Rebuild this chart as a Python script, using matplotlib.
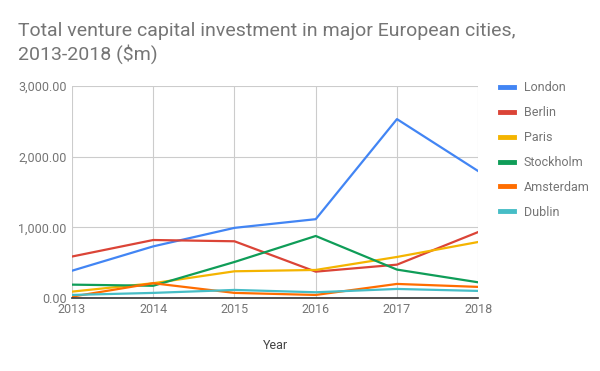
import matplotlib
matplotlib.use("Agg")
import matplotlib.pyplot as plt
from matplotlib.ticker import FuncFormatter

plt.rcParams['font.family'] = ['Roboto', 'DejaVu Sans']

years = [2013, 2014, 2015, 2016, 2017, 2018]
london = [385, 730, 992, 1115, 2532, 1796]
berlin = [586, 820, 802, 372, 471, 933]
paris = [89, 208, 377, 396, 580, 792]
stockholm = [188, 172, 509, 877, 401, 221]
amsterdam = [18, 208, 71, 42, 198, 156]
dublin = [42, 71, 113, 80, 127, 99]

series = [
    ("London", london, "#4285F4"),
    ("Berlin", berlin, "#DB4437"),
    ("Paris", paris, "#F4B400"),
    ("Stockholm", stockholm, "#0F9D58"),
    ("Amsterdam", amsterdam, "#FF6D00"),
    ("Dublin", dublin, "#46BDC6"),
]

fig = plt.figure(figsize=(6, 3.71), dpi=100)
ax = fig.add_axes([0.12, 0.197, 0.677, 0.571])

for name, vals, col in series:
    ax.plot(years, vals, color=col, lw=1.6, label=name, solid_joinstyle='round')

ax.set_xlim(2013, 2018)
ax.set_ylim(0, 3000)
ax.set_xticks(years)
ax.set_yticks([0, 1000, 2000, 3000])
ax.yaxis.set_major_formatter(FuncFormatter(lambda v, p: f"{v:,.2f}"))
ax.grid(True, color="#CCCCCC", lw=0.8)
ax.set_axisbelow(True)
for s in ["top", "right", "left"]:
    ax.spines[s].set_visible(False)
ax.spines["bottom"].set_color("#333333")
ax.spines["bottom"].set_linewidth(1.2)
ax.tick_params(length=0, labelsize=9, colors="#757575", pad=4)
ax.set_xlabel("Year", fontsize=9, color="#444444", labelpad=16)

fig.text(0.03, 0.828, "Total venture capital investment in major European cities,\n2013-2018 ($m)",
         fontsize=14, color="#757575", ha="left", va="bottom", linespacing=1.25)

leg = fig.legend(loc="upper left", bbox_to_anchor=(0.815, 0.811), frameon=False,
                 fontsize=9, handlelength=1.1, handletextpad=0.8, labelspacing=0.95)
for t in leg.get_texts():
    t.set_color("#757575")
for h in leg.get_lines():
    h.set_linewidth(3.5)

fig.savefig("out.png", dpi=100)
